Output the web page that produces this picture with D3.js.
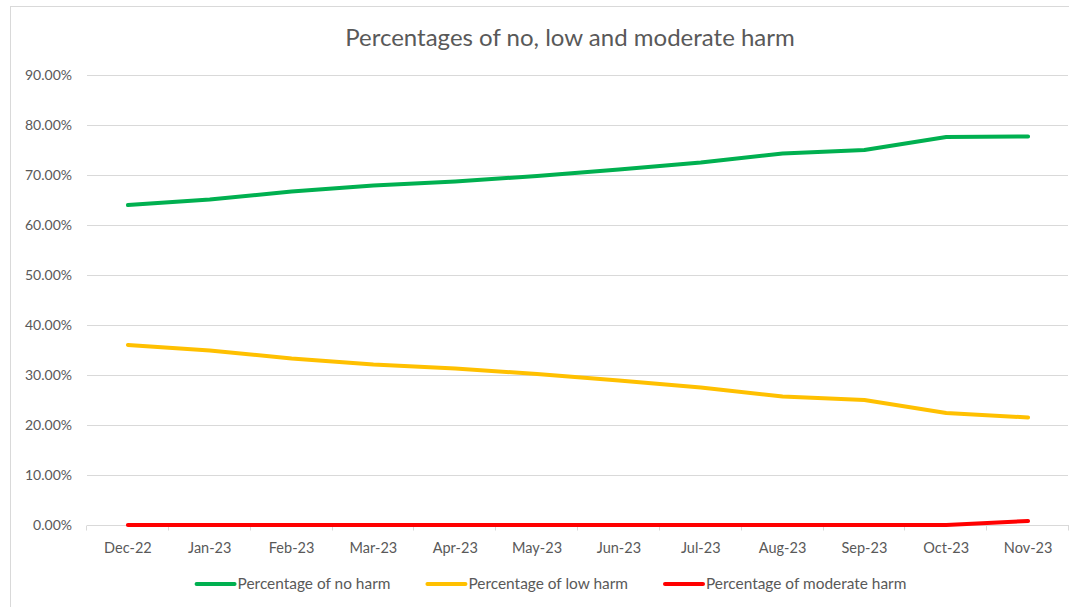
<!DOCTYPE html>
<html>
<head>
<meta charset="utf-8">
<script src="https://cdn.jsdelivr.net/npm/d3@7"></script>
<style>
  body { margin: 0; background: #fff; }
  svg { display: block; }
  text { font-family: Lato, "Open Sans", "Liberation Sans", sans-serif; fill: #595959; }
</style>
</head>
<body>
<svg id="chart" width="1069" height="607"></svg>
<script>
// Monthly share of incidents by harm level (percent)
const months = ["Dec-22", "Jan-23", "Feb-23", "Mar-23", "Apr-23", "May-23",
                "Jun-23", "Jul-23", "Aug-23", "Sep-23", "Oct-23", "Nov-23"];
const noHarm       = [64.0, 65.1, 66.7, 67.9, 68.7, 69.8, 71.1, 72.5, 74.3, 75.0, 77.6, 77.7];
const lowHarm      = [36.0, 34.9, 33.3, 32.1, 31.3, 30.2, 28.9, 27.5, 25.7, 25.0, 22.4, 21.5];
const moderateHarm = [0, 0, 0, 0, 0, 0, 0, 0, 0, 0, 0, 0.8];
const yTicks = [0, 10, 20, 30, 40, 50, 60, 70, 80, 90];

const seriesNames  = ["Percentage of no harm", "Percentage of low harm", "Percentage of moderate harm"];
const seriesColors = ["#00B050", "#FFC000", "#FF0000"];
const seriesValues = [noHarm, lowHarm, moderateHarm];

const titleText = "Percentages of no, low and moderate harm";

const svg = d3.select("#chart");
const plot = { left: 87, right: 1069, top: 75, bottom: 525 };

// outer chart frame
svg.append("rect")
  .attr("x", 10.5).attr("y", 6.5)
  .attr("width", 1100).attr("height", 700)
  .attr("fill", "#fff").attr("stroke", "#d9d9d9").attr("stroke-width", 1);

const x = d3.scaleBand().domain(months).range([plot.left, plot.right]);
const y = d3.scaleLinear().domain([0, 90]).range([plot.bottom, plot.top]);
const cx = m => x(m) + x.bandwidth() / 2;

// horizontal gridlines
svg.append("g").selectAll("line")
  .data(yTicks.filter(t => t > 0))
  .join("line")
  .attr("x1", plot.left).attr("x2", plot.right - 1)
  .attr("y1", d => Math.round(y(d)) + 0.5).attr("y2", d => Math.round(y(d)) + 0.5)
  .attr("stroke", "#d9d9d9").attr("stroke-width", 1);

// y-axis labels
const yAxis = d3.axisLeft(y).tickValues(yTicks)
  .tickFormat(d => d3.format(".2f")(d) + "%")
  .tickSize(0).tickPadding(15);
const gy = svg.append("g").attr("transform", `translate(${plot.left},0)`).call(yAxis);
gy.select(".domain").remove();
gy.selectAll("text").attr("font-size", 14).style("font-family", null).attr("fill", "#595959");

// category axis with boundary ticks
const gx = svg.append("g").attr("transform", `translate(0,${Math.round(y(0)) + 0.5})`);
gx.append("line").attr("x1", plot.left).attr("x2", plot.right)
  .attr("stroke", "#d9d9d9").attr("stroke-width", 1);
const bounds = months.map(m => x(m)).concat([x(months[months.length - 1]) + x.bandwidth()]);
gx.selectAll("line.tick").data(bounds).join("line").attr("class", "tick")
  .attr("x1", d => Math.round(d) - 0.5).attr("x2", d => Math.round(d) - 0.5)
  .attr("y1", 0).attr("y2", 5)
  .attr("stroke", "#d9d9d9").attr("stroke-width", 1);
gx.selectAll("text").data(months).join("text")
  .attr("x", d => cx(d)).attr("y", 27)
  .attr("text-anchor", "middle").attr("font-size", 14.5)
  .text(d => d);

// series lines
const line = d3.line()
  .x((d, i) => cx(months[i]))
  .y(d => y(d));
svg.append("g").selectAll("path")
  .data(seriesValues)
  .join("path")
  .attr("d", d => line(d))
  .attr("fill", "none")
  .attr("stroke", (d, i) => seriesColors[i])
  .attr("stroke-width", 4)
  .attr("stroke-linecap", "round")
  .attr("stroke-linejoin", "round");

// title, sized to span 450px
const title = svg.append("text")
  .attr("x", 570).attr("y", 46)
  .attr("text-anchor", "middle").attr("font-size", 22)
  .text(titleText);
const tw = title.node().getComputedTextLength();
title.attr("font-size", 22 * 450 / tw);

// legend
const legendY = 584;
const swatch = 38, gapAfterSwatch = 1, gapBetween = 37;
const legend = svg.append("g");
const items = legend.selectAll("g").data(seriesNames).join("g");
items.append("line")
  .attr("x1", 0).attr("x2", swatch)
  .attr("y1", legendY).attr("y2", legendY)
  .attr("stroke", (d, i) => seriesColors[i])
  .attr("stroke-width", 4).attr("stroke-linecap", "round");
const legendText = items.append("text")
  .attr("x", swatch + gapAfterSwatch + 2).attr("y", legendY)
  .attr("dy", "0.35em").attr("font-size", 14)
  .text(d => d);
// scale legend font so the first entry spans about 153px
const firstW = legendText.nodes()[0].getComputedTextLength();
legendText.attr("font-size", 14 * 153 / firstW);
const widths = legendText.nodes().map(n => n.getComputedTextLength() + 2);
const total = widths.reduce((a, w) => a + swatch + gapAfterSwatch + w, 0) + gapBetween * (widths.length - 1);
let start = 551.5 - total / 2;
items.attr("transform", (d, i) => {
  const t = `translate(${start},0)`;
  start += swatch + gapAfterSwatch + widths[i] + gapBetween;
  return t;
});
</script>
</body>
</html>
